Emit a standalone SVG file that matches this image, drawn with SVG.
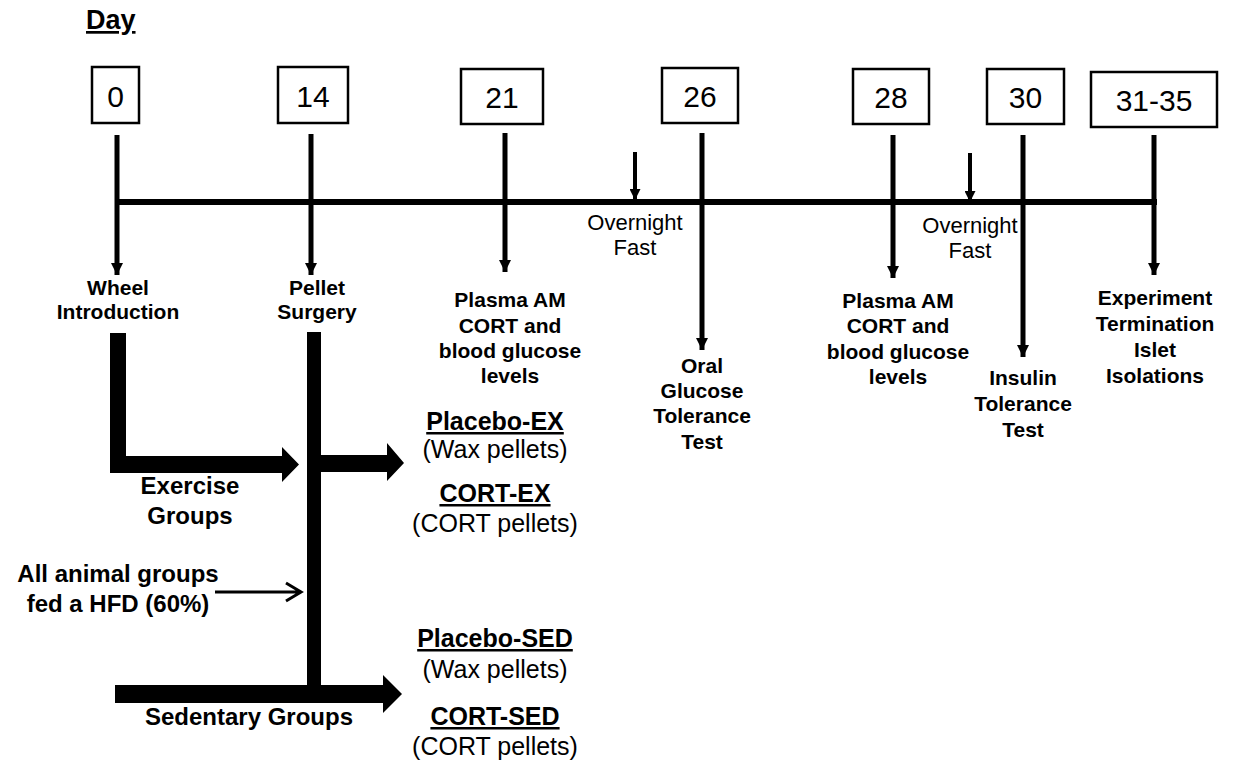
<svg xmlns="http://www.w3.org/2000/svg" width="1233" height="765" viewBox="0 0 1233 765">
<defs>
<marker id="ah" viewBox="0 0 12 12" refX="12" refY="6" markerWidth="12" markerHeight="12" markerUnits="userSpaceOnUse" orient="auto"><path d="M0,0 L12,6 L0,12 Z" fill="#000"/></marker>
<marker id="ahs" viewBox="0 0 10 10" refX="10" refY="5" markerWidth="11" markerHeight="11" markerUnits="userSpaceOnUse" orient="auto"><path d="M0,0 L10,5 L0,10 Z" fill="#000"/></marker>
</defs>
<style>
text{font-family:"Liberation Sans",Arial,sans-serif;fill:#000}
.b{font-weight:bold;font-size:21px;text-anchor:middle}
.n{font-size:22px;text-anchor:middle}
.num{font-size:30px;text-anchor:middle}
.g{font-size:25px;text-anchor:middle}
.gb{font-size:25px;font-weight:bold;text-anchor:middle;text-decoration:underline}
.box{fill:#fff;stroke:#000;stroke-width:2.5}
.ar{stroke:#000;stroke-width:5;fill:none;marker-end:url(#ah)}
.ars{stroke:#000;stroke-width:4;fill:none;marker-end:url(#ahs)}
</style>
<rect width="1233" height="765" fill="#fff"/>
<text x="86" y="29" style="font-size:27px;font-weight:bold;text-decoration:underline">Day</text>

<g id="connectors">
<line x1="117" y1="202" x2="1157" y2="202" stroke="#000" stroke-width="6"/>
<line class="ar" x1="117" y1="135" x2="117" y2="275"/>
<line class="ar" x1="311" y1="134" x2="311" y2="275"/>
<line class="ar" x1="505" y1="133" x2="505" y2="272"/>
<line class="ar" x1="702" y1="133" x2="702" y2="350"/>
<line class="ar" x1="893" y1="135" x2="893" y2="278"/>
<line class="ar" x1="1023" y1="135" x2="1023" y2="357"/>
<line class="ar" x1="1154" y1="135" x2="1154" y2="275"/>
<line class="ars" x1="635" y1="152" x2="635" y2="200"/>
<line class="ars" x1="970" y1="153" x2="970" y2="202"/>
<path d="M110,333 H126 V456 H282 V447 L299,464.5 L282,482 V473 H110 Z" fill="#000"/>
<rect x="307" y="332" width="14" height="371" fill="#000"/>
<path d="M321,455 H387 V443 L404,463 L387,481 V472 H321 Z" fill="#000"/>
<path d="M115,685 H383 V675 L402,694 L383,713 V703 H115 Z" fill="#000"/>
<path d="M215,592 H300 M286,583 L301,592 L286,601" stroke="#000" stroke-width="3" fill="none"/>
</g>

<g id="day0"><rect class="box" x="92" y="67" width="47" height="56"/><text class="num" x="115.5" y="107">0</text></g>
<g id="day14"><rect class="box" x="278" y="67" width="70" height="56"/><text class="num" x="313" y="107">14</text></g>
<g id="day21"><rect class="box" x="461" y="69" width="82" height="55"/><text class="num" x="502" y="108">21</text></g>
<g id="day26"><rect class="box" x="662" y="68" width="76" height="55"/><text class="num" x="700" y="107">26</text></g>
<g id="day28"><rect class="box" x="853" y="69" width="76" height="55"/><text class="num" x="891" y="108">28</text></g>
<g id="day30"><rect class="box" x="987" y="69" width="77" height="55"/><text class="num" x="1025.5" y="108">30</text></g>
<g id="day31-35"><rect class="box" x="1091" y="72" width="126" height="55"/><text class="num" x="1154" y="111">31-35</text></g>

<g id="wheel"><text class="b" x="118" y="295">Wheel</text><text class="b" x="118" y="319">Introduction</text></g>
<g id="pellet"><text class="b" x="317" y="295">Pellet</text><text class="b" x="317" y="319">Surgery</text></g>
<g id="plasma21"><text class="b" x="510" y="307">Plasma AM</text><text class="b" x="510" y="333">CORT and</text><text class="b" x="510" y="358">blood glucose</text><text class="b" x="510" y="383">levels</text></g>
<g id="fast1"><text class="n" x="635" y="230">Overnight</text><text class="n" x="635" y="255">Fast</text></g>
<g id="ogtt"><text class="b" x="702" y="373">Oral</text><text class="b" x="702" y="398">Glucose</text><text class="b" x="702" y="423">Tolerance</text><text class="b" x="702" y="449">Test</text></g>
<g id="plasma28"><text class="b" x="898" y="308">Plasma AM</text><text class="b" x="898" y="333">CORT and</text><text class="b" x="898" y="359">blood glucose</text><text class="b" x="898" y="384">levels</text></g>
<g id="fast2"><text class="n" x="970" y="233">Overnight</text><text class="n" x="970" y="258">Fast</text></g>
<g id="itt"><text class="b" x="1023" y="385">Insulin</text><text class="b" x="1023" y="411">Tolerance</text><text class="b" x="1023" y="437">Test</text></g>
<g id="termination"><text class="b" x="1155" y="305">Experiment</text><text class="b" x="1155" y="331">Termination</text><text class="b" x="1155" y="357">Islet</text><text class="b" x="1155" y="383">Isolations</text></g>

<g id="exercise"><text class="b" x="190" y="494" style="font-size:24px">Exercise</text><text class="b" x="190" y="524" style="font-size:24px">Groups</text></g>
<g id="hfd"><text class="b" x="118" y="582" style="font-size:24px">All animal groups</text><text class="b" x="118" y="612" style="font-size:24px">fed a HFD (60%)</text></g>
<g id="sedentary"><text class="b" x="249" y="725" style="font-size:24px">Sedentary Groups</text></g>

<g id="placebo-ex"><text class="gb" x="495" y="430">Placebo-EX</text><text class="g" x="495" y="458">(Wax pellets)</text></g>
<g id="cort-ex"><text class="gb" x="495" y="502">CORT-EX</text><text class="g" x="495" y="532">(CORT pellets)</text></g>
<g id="placebo-sed"><text class="gb" x="495" y="647">Placebo-SED</text><text class="g" x="495" y="678">(Wax pellets)</text></g>
<g id="cort-sed"><text class="gb" x="495" y="725">CORT-SED</text><text class="g" x="495" y="755">(CORT pellets)</text></g>
</svg>
